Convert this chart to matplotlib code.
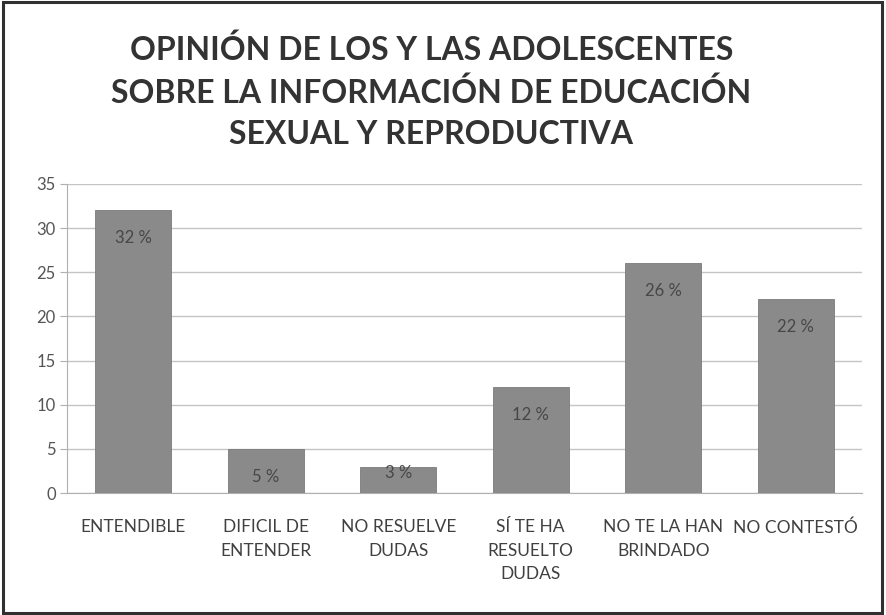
import matplotlib.pyplot as plt
from matplotlib.patches import Rectangle

# Respuestas de los adolescentes (porcentaje)
categorias = ['ENTENDIBLE', 'DIFICIL DE\nENTENDER', 'NO RESUELVE\nDUDAS',
              'SÍ TE HA\nRESUELTO\nDUDAS', 'NO TE LA HAN\nBRINDADO', 'NO CONTESTÓ']
valores = [32, 5, 3, 12, 26, 22]
etiquetas = ['32 %', '5 %', '3 %', '12 %', '26 %', '22 %']

plt.rcParams['font.family'] = ['Lato', 'DejaVu Sans']

fig = plt.figure(figsize=(8.86, 6.15), dpi=100)
ax = fig.add_axes([67 / 886, 1 - 493 / 615, 795 / 886, 309 / 615])

x = range(len(categorias))
barras = ax.bar(x, valores, width=0.575, color='#8a8a8a', edgecolor='#7a7a7a',
                linewidth=0.6, zorder=3)

# etiquetas de porcentaje dentro de cada barra
for b, v, t in zip(barras, valores, etiquetas):
    dy = -20 if v > 4 else -5
    ax.annotate(t, (b.get_x() + b.get_width() / 2, v), xytext=(0, dy),
                textcoords='offset points', ha='center', va='center',
                fontsize=12, color='#474747', zorder=4)

ax.set_xlim(-0.5, len(categorias) - 0.5)
ax.set_ylim(0, 35)
ax.set_yticks(range(0, 36, 5))
ax.yaxis.grid(True, color='#c4c4c4', linewidth=1, zorder=0)
ax.set_xticks(list(x))
ax.set_xticklabels(categorias, fontsize=12.5, color='#404040', linespacing=1.55, va='top')
ax.tick_params(axis='x', length=0, pad=19)
ax.tick_params(axis='y', length=5, color='#b0b0b0', labelsize=12, labelcolor='#555555', pad=3)

for s in ['top', 'right']:
    ax.spines[s].set_visible(False)
ax.spines['left'].set_color('#b0b0b0')
ax.spines['bottom'].set_color('#b0b0b0')

fig.text(0.487, 1 - 92 / 615,
         'OPINIÓN DE LOS Y LAS ADOLESCENTES\nSOBRE LA INFORMACIÓN DE EDUCACIÓN\nSEXUAL Y REPRODUCTIVA',
         ha='center', va='center', fontsize=23, fontweight='bold', color='#333333',
         linespacing=1.5)

# marco exterior del gráfico
fig.patches.append(Rectangle((0.003, 0.004), 0.993, 0.992, transform=fig.transFigure,
                             fill=False, edgecolor='#303030', linewidth=2.2))

fig.savefig('out.png', dpi=100, facecolor='white')
